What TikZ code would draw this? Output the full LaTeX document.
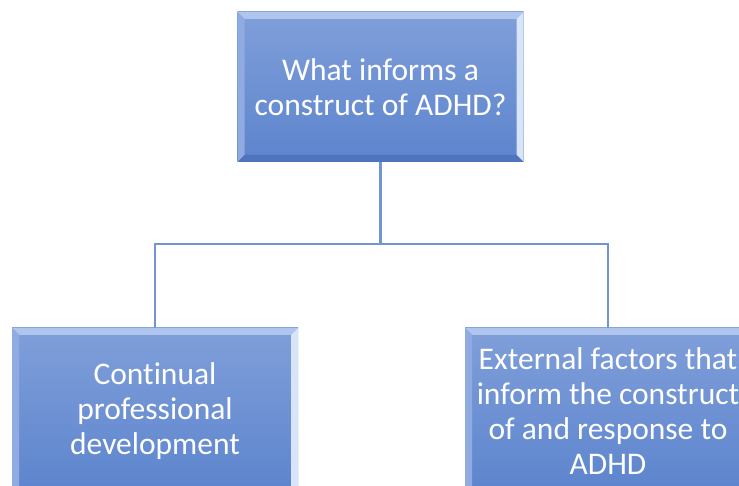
\documentclass[tikz,border=0pt]{standalone}
\usepackage{fontspec}
\setmainfont{Carlito}[RawFeature=-liga]
\begin{document}
\definecolor{faceTop}{HTML}{809FDA}
\definecolor{faceBot}{HTML}{5C84CD}
\definecolor{bevTop}{HTML}{B0C5EE}
\definecolor{bevLeft}{HTML}{8FABE2}
\definecolor{bevRight}{HTML}{D8E4F8}
\definecolor{bevBot}{HTML}{4E74BE}
\definecolor{linkBlue}{HTML}{7393D3}
\tikzset{
  bevelbox/.style={
    minimum width=286pt, inner sep=0pt, text=white, align=center,
    font=\fontsize{31.5}{35}\selectfont,
    path picture={
      \def\bv{7pt}
      \coordinate (bbsw) at (path picture bounding box.south west);
      \coordinate (bbne) at (path picture bounding box.north east);
      \coordinate (bbnw) at (path picture bounding box.north west);
      \coordinate (bbse) at (path picture bounding box.south east);
      % face with vertical gradient
      \shade[top color=faceTop, bottom color=faceBot]
        (bbsw) rectangle (bbne);
      % bevel bands
      \fill[bevTop] (bbnw) -- (bbne) -- ([shift={(-\bv,-\bv)}]bbne) -- ([shift={(\bv,-\bv)}]bbnw) -- cycle;
      \fill[bevLeft] (bbnw) -- ([shift={(\bv,-\bv)}]bbnw) -- ([shift={(\bv,\bv)}]bbsw) -- (bbsw) -- cycle;
      \fill[bevRight] (bbne) -- (bbse) -- ([shift={(-\bv,\bv)}]bbse) -- ([shift={(-\bv,-\bv)}]bbne) -- cycle;
      \fill[bevBot] (bbsw) -- ([shift={(\bv,\bv)}]bbsw) -- ([shift={(-\bv,\bv)}]bbse) -- (bbse) -- cycle;
    }
  },
  link/.style={draw=linkBlue, line width=2.3pt}
}
\begin{tikzpicture}[x=1pt,y=1pt]
  \useasboundingbox (0,0) rectangle (739,485);
  \clip (0,0) rectangle (739,485);
  \node[bevelbox, minimum height=150pt] (top) at (380.5,398)
    {What informs a\\construct of ADHD?};
  \node[bevelbox, minimum height=166pt] (left) at (155,74)
    {Continual\\professional\\development};
  \node[bevelbox, minimum height=166pt] (right) at (608,74)
    {External factors that\\inform the construct\\of and response to\\ADHD};
  \coordinate (hub) at (380.5,241);
  \draw[link] (top.south) -- (hub);
  \draw[link] (hub) -| (left.north);
  \draw[link] (hub) -| (right.north);
\end{tikzpicture}
\end{document}
